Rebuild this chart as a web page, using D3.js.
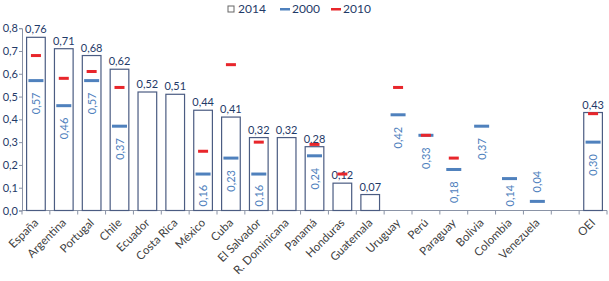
<!DOCTYPE html>
<html>
<head>
<meta charset="utf-8">
<script src="https://cdn.jsdelivr.net/npm/d3@7"></script>
<style>
  body { margin: 0; background: #fff; }
  svg text { font-family: "Lato", "Open Sans", sans-serif; }
</style>
</head>
<body>
<div id="chart"></div>
<script>
// data (blank slot before OEI is empty on purpose)
const countries = ["España", "Argentina", "Portugal", "Chile", "Ecuador", "Costa Rica", "México", "Cuba",
  "El Salvador", "R. Dominicana", "Panamá", "Honduras", "Guatemala", "Uruguay", "Perú", "Paraguay",
  "Bolivia", "Colombia", "Venezuela", "", "OEI"];
const years = ["2014", "2000", "2010"];
const v2014 = [0.76, 0.71, 0.68, 0.62, 0.52, 0.51, 0.44, 0.41, 0.32, 0.32, 0.28, 0.12, 0.07,
  null, null, null, null, null, null, null, 0.43];
const v2000 = [0.57, 0.46, 0.57, 0.37, null, null, 0.16, 0.23, 0.16, null, 0.24, null, null,
  0.42, 0.33, 0.18, 0.37, 0.14, 0.04, null, 0.30];
const v2010 = [0.68, 0.58, 0.61, 0.54, null, null, 0.26, 0.64, 0.30, null, 0.29, 0.16, null,
  0.54, 0.33, 0.23, null, null, null, null, 0.425];
const yTicks = [0, 0.1, 0.2, 0.3, 0.4, 0.5, 0.6, 0.7, 0.8];

const WIDTH = 609;
const HEIGHT = 281;
const MARGIN = { left: 22, right: 2, top: 28.2, bottom: 70.5 };
const BLUE = "#4f81bd";
const RED = "#e8262b";
const NAVY = "#1f3a68";
const AXIS = "#8a93a6";

const fmt = d3.format(".2f");
const fmtLabel = (v) => fmt(v).replace(".", ",");
const fmtTick = (v) => d3.format(".1f")(v).replace(".", ",");

const svg = d3.select("#chart").append("svg")
  .attr("width", WIDTH)
  .attr("height", HEIGHT);

const idx = countries.map((d, i) => i);

const x = d3.scaleBand()
  .domain(idx)
  .range([MARGIN.left, WIDTH - MARGIN.right])
  .paddingInner(0.33)
  .paddingOuter(0.165);

const y = d3.scaleLinear()
  .domain([0, 0.8])
  .range([HEIGHT - MARGIN.bottom, MARGIN.top]);

const y0 = y(0);
const cx = (i) => x(i) + x.bandwidth() / 2;

// y axis
const yAxis = d3.axisLeft(y).tickValues(yTicks).tickFormat(fmtTick).tickSize(3);
const gy = svg.append("g")
  .attr("transform", `translate(${MARGIN.left},0)`)
  .call(yAxis);
gy.select(".domain").attr("stroke", AXIS);
gy.selectAll(".tick line").attr("stroke", AXIS);
gy.selectAll(".tick text")
  .attr("fill", NAVY)
  .attr("font-size", 11)
  .attr("x", -4);

// x axis: line plus ticks on band boundaries
const bounds = d3.range(countries.length + 1).map((i) => x.range()[0] + i * x.step());
svg.append("line")
  .attr("x1", MARGIN.left).attr("x2", bounds[bounds.length - 1])
  .attr("y1", y0).attr("y2", y0)
  .attr("stroke", AXIS);
svg.selectAll(".xtick").data(bounds).join("line")
  .attr("class", "xtick")
  .attr("x1", (d) => d).attr("x2", (d) => d)
  .attr("y1", y0).attr("y2", y0 + 4)
  .attr("stroke", AXIS);

svg.selectAll(".xlabel").data(idx.filter((i) => countries[i] !== "")).join("text")
  .attr("class", "xlabel")
  .attr("text-anchor", "end")
  .attr("font-size", 11.5)
  .attr("fill", "#404040")
  .attr("transform", (i) => `translate(${cx(i) + 3},${y0 + 13}) rotate(-45)`)
  .text((i) => countries[i]);

// bars 2014
const barIdx = idx.filter((i) => v2014[i] != null);
svg.selectAll(".bar").data(barIdx).join("rect")
  .attr("class", "bar")
  .attr("x", (i) => x(i))
  .attr("y", (i) => y(v2014[i]))
  .attr("width", x.bandwidth())
  .attr("height", (i) => y0 - y(v2014[i]))
  .attr("fill", "#fff")
  .attr("stroke", "#4b5c82")
  .attr("stroke-width", 1.2);

svg.selectAll(".barlabel").data(barIdx).join("text")
  .attr("class", "barlabel")
  .attr("x", cx)
  .attr("y", (i) => y(v2014[i]) - 4)
  .attr("text-anchor", "middle")
  .attr("font-size", 11)
  .attr("fill", NAVY)
  .text((i) => fmtLabel(v2014[i]));

// 2000 marks (blue)
const blueIdx = idx.filter((i) => v2000[i] != null);
const bw = 15;
svg.selectAll(".blue").data(blueIdx).join("rect")
  .attr("class", "blue")
  .attr("x", (i) => cx(i) - bw / 2)
  .attr("y", (i) => y(v2000[i]) - 1.5)
  .attr("width", bw)
  .attr("height", 3)
  .attr("fill", BLUE);

// rotated labels below the mark; pushed up when they would hit the axis
svg.selectAll(".bluelabel").data(blueIdx).join("text")
  .attr("class", "bluelabel")
  .attr("text-anchor", "end")
  .attr("font-size", 11)
  .attr("fill", BLUE)
  .text((i) => fmtLabel(v2000[i]))
  .attr("transform", function (i) {
    const len = this.getComputedTextLength();
    const my = y(v2000[i]);
    let top = my + 12;
    if (top + len > y0 - 4) top = y0 - 4 - len;
    if (top < my + 3) top = my - 9 - len;
    return `translate(${cx(i) + 4},${top}) rotate(-90)`;
  });

// 2010 marks (red)
const redIdx = idx.filter((i) => v2010[i] != null);
const rw = 10;
svg.selectAll(".red").data(redIdx).join("rect")
  .attr("class", "red")
  .attr("x", (i) => cx(i) - rw / 2)
  .attr("y", (i) => y(v2010[i]) - 1.5)
  .attr("width", rw)
  .attr("height", 3)
  .attr("fill", RED);

// legend
const legend = svg.append("g").attr("transform", "translate(228,9)");
const items = [
  { label: years[0], kind: "box", x: 0 },
  { label: years[1], kind: "line", color: BLUE, x: 54 },
  { label: years[2], kind: "line", color: RED, x: 105 },
];
items.forEach((it) => {
  const g = legend.append("g").attr("transform", `translate(${it.x},0)`);
  if (it.kind === "box") {
    g.append("rect").attr("x", 0).attr("y", -3).attr("width", 6).attr("height", 6)
      .attr("fill", "#fff").attr("stroke", "#666");
  } else {
    g.append("rect").attr("x", -2).attr("y", -1).attr("width", 10).attr("height", 2.5)
      .attr("fill", it.color);
  }
  g.append("text").attr("x", 10).attr("y", 4)
    .attr("font-size", 12).attr("fill", NAVY)
    .text(it.label);
});
</script>
</body>
</html>
